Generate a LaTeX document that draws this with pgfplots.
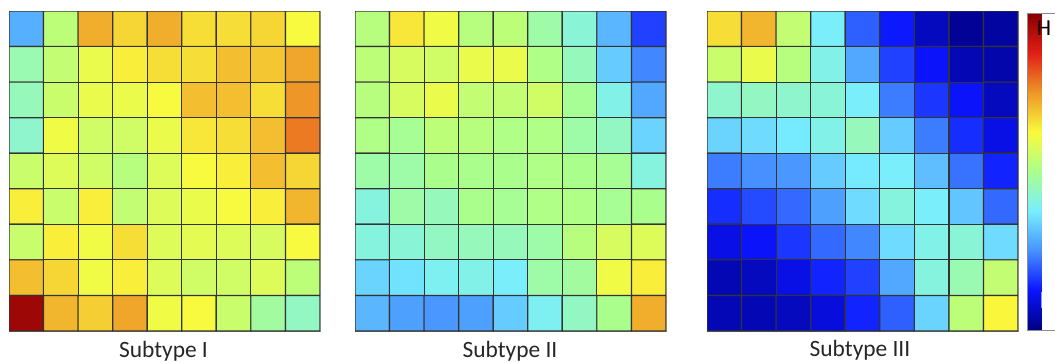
\documentclass[border=0pt]{standalone}
\usepackage{pgfplots}
\pgfplotsset{compat=1.18}
\usepackage{fontspec}
\setmainfont{Carlito}
\pgfplotsset{
  colormap={palejet}{rgb255(0)=(0,0,130) rgb255(1)=(10,20,255) rgb255(2)=(70,145,255) rgb255(3)=(120,238,255) rgb255(4)=(170,255,140) rgb255(5)=(250,250,60) rgb255(6)=(238,150,40) rgb255(7)=(225,30,20) rgb255(8)=(135,0,0)},
  panel/.style={
    scale only axis, width=311bp, height=320bp,
    xmin=-0.5, xmax=8.5, ymin=-0.5, ymax=8.5, y dir=reverse,
    xtick=\empty, ytick=\empty,
    axis line style={black!45, line width=0.8pt},
    colormap name=palejet,
    point meta min=0, point meta max=1,
    anchor=south west,
  },
  cells/.style={matrix plot*, mesh/cols=9, point meta=explicit, draw=black!80, faceted color=black!80, line width=1.2pt},
}
\begin{document}
\begin{tikzpicture}[x=1bp,y=1bp]
\begin{axis}[panel, at={(9bp,31bp)}]
\addplot[cells] table[row sep=\\, meta=c] {
x y c\\
0 0 0.29\\ 1 0 0.53\\ 2 0 0.72\\ 3 0 0.67\\ 4 0 0.72\\ 5 0 0.66\\ 6 0 0.66\\ 7 0 0.67\\ 8 0 0.62\\
0 1 0.46\\ 1 1 0.54\\ 2 1 0.60\\ 3 1 0.64\\ 4 1 0.66\\ 5 1 0.66\\ 6 1 0.70\\ 7 1 0.69\\ 8 1 0.73\\
0 2 0.45\\ 1 2 0.55\\ 2 2 0.60\\ 3 2 0.60\\ 4 2 0.62\\ 5 2 0.70\\ 6 2 0.70\\ 7 2 0.66\\ 8 2 0.75\\
0 3 0.43\\ 1 3 0.61\\ 2 3 0.56\\ 3 3 0.56\\ 4 3 0.60\\ 5 3 0.65\\ 6 3 0.66\\ 7 3 0.70\\ 8 3 0.78\\
0 4 0.55\\ 1 4 0.58\\ 2 4 0.56\\ 3 4 0.52\\ 4 4 0.58\\ 5 4 0.62\\ 6 4 0.64\\ 7 4 0.70\\ 8 4 0.67\\
0 5 0.64\\ 1 5 0.55\\ 2 5 0.64\\ 3 5 0.54\\ 4 5 0.58\\ 5 5 0.60\\ 6 5 0.62\\ 7 5 0.64\\ 8 5 0.71\\
0 6 0.55\\ 1 6 0.64\\ 2 6 0.61\\ 3 6 0.66\\ 4 6 0.58\\ 5 6 0.59\\ 6 6 0.58\\ 7 6 0.57\\ 8 6 0.62\\
0 7 0.70\\ 1 7 0.67\\ 2 7 0.61\\ 3 7 0.64\\ 4 7 0.58\\ 5 7 0.56\\ 6 7 0.56\\ 7 7 0.58\\ 8 7 0.53\\
0 8 0.97\\ 1 8 0.71\\ 2 8 0.68\\ 3 8 0.73\\ 4 8 0.61\\ 5 8 0.62\\ 6 8 0.55\\ 7 8 0.48\\ 8 8 0.44\\
};
\end{axis}
\begin{axis}[panel, at={(355bp,31bp)}]
\addplot[cells] table[row sep=\\, meta=c] {
x y c\\
0 0 0.52\\ 1 0 0.65\\ 2 0 0.61\\ 3 0 0.52\\ 4 0 0.53\\ 5 0 0.47\\ 6 0 0.42\\ 7 0 0.30\\ 8 0 0.17\\
0 1 0.53\\ 1 1 0.57\\ 2 1 0.56\\ 3 1 0.60\\ 4 1 0.60\\ 5 1 0.51\\ 6 1 0.45\\ 7 1 0.33\\ 8 1 0.24\\
0 2 0.52\\ 1 2 0.57\\ 2 2 0.60\\ 3 2 0.54\\ 4 2 0.54\\ 5 2 0.56\\ 6 2 0.49\\ 7 2 0.40\\ 8 2 0.28\\
0 3 0.51\\ 1 3 0.49\\ 2 3 0.53\\ 3 3 0.52\\ 4 3 0.51\\ 5 3 0.51\\ 6 3 0.47\\ 7 3 0.44\\ 8 3 0.34\\
0 4 0.47\\ 1 4 0.47\\ 2 4 0.50\\ 3 4 0.50\\ 4 4 0.50\\ 5 4 0.51\\ 6 4 0.50\\ 7 4 0.49\\ 8 4 0.41\\
0 5 0.41\\ 1 5 0.47\\ 2 5 0.45\\ 3 5 0.50\\ 4 5 0.49\\ 5 5 0.51\\ 6 5 0.51\\ 7 5 0.49\\ 8 5 0.50\\
0 6 0.41\\ 1 6 0.42\\ 2 6 0.44\\ 3 6 0.45\\ 4 6 0.45\\ 5 6 0.47\\ 6 6 0.52\\ 7 6 0.57\\ 8 6 0.58\\
0 7 0.34\\ 1 7 0.36\\ 2 7 0.39\\ 3 7 0.40\\ 4 7 0.38\\ 5 7 0.47\\ 6 7 0.48\\ 7 7 0.61\\ 8 7 0.64\\
0 8 0.30\\ 1 8 0.27\\ 2 8 0.26\\ 3 8 0.27\\ 4 8 0.33\\ 5 8 0.39\\ 6 8 0.44\\ 7 8 0.50\\ 8 8 0.72\\
};
\end{axis}
\begin{axis}[panel, at={(707bp,31bp)},
  colorbar,
  colorbar style={scale only axis, width=34bp, height=317bp, at={(parent axis.north east)}, anchor=north west, xshift=1bp, yshift=-2bp, ytick=\empty, xtick=\empty, axis line style={black!45, line width=0.8pt}}]
\addplot[cells] table[row sep=\\, meta=c] {
x y c\\
0 0 0.66\\ 1 0 0.71\\ 2 0 0.54\\ 3 0 0.38\\ 4 0 0.20\\ 5 0 0.13\\ 6 0 0.06\\ 7 0 0.02\\ 8 0 0.03\\
0 1 0.55\\ 1 1 0.60\\ 2 1 0.52\\ 3 1 0.40\\ 4 1 0.28\\ 5 1 0.17\\ 6 1 0.12\\ 7 1 0.05\\ 8 1 0.04\\
0 2 0.43\\ 1 2 0.44\\ 2 2 0.43\\ 3 2 0.42\\ 4 2 0.38\\ 5 2 0.23\\ 6 2 0.16\\ 7 2 0.12\\ 8 2 0.06\\
0 3 0.34\\ 1 3 0.35\\ 2 3 0.37\\ 3 3 0.40\\ 4 3 0.45\\ 5 3 0.33\\ 6 3 0.23\\ 7 3 0.15\\ 8 3 0.10\\
0 4 0.23\\ 1 4 0.25\\ 2 4 0.26\\ 3 4 0.33\\ 4 4 0.37\\ 5 4 0.38\\ 6 4 0.31\\ 7 4 0.22\\ 8 4 0.14\\
0 5 0.15\\ 1 5 0.18\\ 2 5 0.21\\ 3 5 0.27\\ 4 5 0.35\\ 5 5 0.41\\ 6 5 0.38\\ 7 5 0.32\\ 8 5 0.21\\
0 6 0.10\\ 1 6 0.12\\ 2 6 0.16\\ 3 6 0.21\\ 4 6 0.24\\ 5 6 0.35\\ 6 6 0.40\\ 7 6 0.42\\ 8 6 0.35\\
0 7 0.05\\ 1 7 0.06\\ 2 7 0.10\\ 3 7 0.14\\ 4 7 0.17\\ 5 7 0.28\\ 6 7 0.41\\ 7 7 0.46\\ 8 7 0.54\\
0 8 0.05\\ 1 8 0.05\\ 2 8 0.06\\ 3 8 0.09\\ 4 8 0.14\\ 5 8 0.20\\ 6 8 0.34\\ 7 8 0.53\\ 8 8 0.63\\
};
\end{axis}
\node[anchor=base, font=\fontsize{23.5}{28}\selectfont, text=black!85] at (163.5,5) {Subtype I};
\node[anchor=base, font=\fontsize{23.5}{28}\selectfont, text=black!85] at (510,5) {Subtype II};
\node[anchor=base, font=\fontsize{23.5}{28}\selectfont, text=black!85] at (860,6) {Subtype III};
\node[anchor=base, inner sep=0pt, font=\fontsize{23}{28}\selectfont, text=black!80!red!40!black] at (1044,327) {H};
\node[anchor=base, inner sep=0pt, font=\fontsize{25}{30}\selectfont, text=white] at (1045,54) {L};
\pgfresetboundingbox
\path[use as bounding box] (0,0) rectangle (1055,362);
\end{tikzpicture}
\end{document}
